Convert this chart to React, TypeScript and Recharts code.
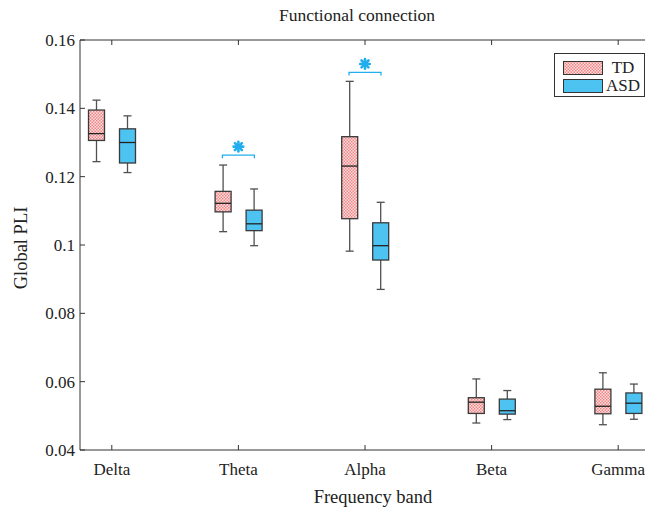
import { Bar, ComposedChart, Legend, Scatter, XAxis, YAxis } from "recharts";

const bands = ["Delta", "Theta", "Alpha", "Beta", "Gamma"];

// TD box statistics per band
const tdMin = [0.1244, 0.1039, 0.0982, 0.0479, 0.0474];
const tdQ1 = [0.1306, 0.1097, 0.1077, 0.0507, 0.0506];
const tdMed = [0.1326, 0.1122, 0.1231, 0.054, 0.0528];
const tdQ3 = [0.1395, 0.1157, 0.1317, 0.0553, 0.0578];
const tdMax = [0.1424, 0.1234, 0.1479, 0.0608, 0.0626];

// ASD box statistics per band
const asdMin = [0.1212, 0.0998, 0.087, 0.0489, 0.049];
const asdQ1 = [0.124, 0.1042, 0.0956, 0.0505, 0.0507];
const asdMed = [0.13, 0.1062, 0.0998, 0.0515, 0.0537];
const asdQ3 = [0.134, 0.1102, 0.1065, 0.0549, 0.0567];
const asdMax = [0.1378, 0.1164, 0.1125, 0.0574, 0.0593];

// height of the significance bracket (null = not significant)
const sigLevel = [null, 0.1263, 0.1505, null, null];

const yTicks = [0.04, 0.06, 0.08, 0.1, 0.12, 0.14, 0.16];

const FONT = "'Liberation Serif', 'Times New Roman', serif";
const TD_EDGE = "#3a3a3a";
const ASD_FILL = "#4dc3f2";
const SIG = "#22aeee";

const data = bands.map((band, i) => ({
  band,
  td: { min: tdMin[i], q1: tdQ1[i], med: tdMed[i], q3: tdQ3[i], max: tdMax[i] },
  asd: { min: asdMin[i], q1: asdQ1[i], med: asdMed[i], q3: asdQ3[i], max: asdMax[i] },
  sig: sigLevel[i],
}));

function BoxShape(props: any) {
  const { x, y, width, height, stats, fill } = props;
  if (!stats || height == null) return null;
  const top = Math.min(y, y + height);
  const bottom = Math.max(y, y + height);
  const py = (v: number) => top + ((stats.max - v) / (stats.max - stats.min)) * (bottom - top);
  const cx = x + width / 2;
  const w = "#505050";
  return (
    <g>
      <line x1={cx} x2={cx} y1={py(stats.max)} y2={py(stats.q3)} stroke={w} strokeWidth={1.3} />
      <line x1={cx} x2={cx} y1={py(stats.q1)} y2={py(stats.min)} stroke={w} strokeWidth={1.3} />
      <line x1={cx - 4} x2={cx + 4} y1={py(stats.max)} y2={py(stats.max)} stroke={w} strokeWidth={1.3} />
      <line x1={cx - 4} x2={cx + 4} y1={py(stats.min)} y2={py(stats.min)} stroke={w} strokeWidth={1.3} />
      <rect x={x} y={py(stats.q3)} width={width} height={py(stats.q1) - py(stats.q3)} fill={fill} stroke={TD_EDGE} strokeWidth={1.3} />
      <line x1={x} x2={x + width} y1={py(stats.med)} y2={py(stats.med)} stroke="#222" strokeWidth={1.3} />
    </g>
  );
}

function SigShape(props: any) {
  const { cx, cy, payload } = props;
  if (payload == null || payload.sig == null || !Number.isFinite(cy)) return <g />;
  const s = 4.8;
  const d = s * 0.72;
  const sy = cy - 8.5;
  return (
    <g stroke={SIG} fill="none" strokeLinecap="round">
      <path d={`M${cx - 16},${cy + 3} V${cy} H${cx + 16} V${cy + 3}`} strokeWidth={1.3} strokeLinecap="butt" />
      <line x1={cx - s} x2={cx + s} y1={sy} y2={sy} strokeWidth={2.6} />
      <line x1={cx} x2={cx} y1={sy - s} y2={sy + s} strokeWidth={2.6} />
      <line x1={cx - d} x2={cx + d} y1={sy - d} y2={sy + d} strokeWidth={2.6} />
      <line x1={cx - d} x2={cx + d} y1={sy + d} y2={sy - d} strokeWidth={2.6} />
    </g>
  );
}

function BottomTick(props: any) {
  const { x, y, payload } = props;
  return (
    <g>
      <line x1={x} x2={x} y1={y} y2={y - 5} stroke="#333" />
      <text x={x} y={y + 25} textAnchor="middle" fill="#222" fontSize={17} fontFamily={FONT}>
        {payload.value}
      </text>
    </g>
  );
}

function TopTick(props: any) {
  const { x, y } = props;
  return <line x1={x} x2={x} y1={y} y2={y + 5} stroke="#333" />;
}

function LeftTick(props: any) {
  const { x, y, payload } = props;
  return (
    <g>
      <line x1={x} x2={x + 5} y1={y} y2={y} stroke="#333" />
      <text x={x - 5} y={y + 6} textAnchor="end" fill="#222" fontSize={17} fontFamily={FONT}>
        {String(Number(payload.value.toFixed(2)))}
      </text>
    </g>
  );
}

function Swatch({ td }: { td: boolean }) {
  return (
    <svg width={40} height={14} style={{ display: "block" }}>
      <defs>
        <pattern id="tdLegendFill" width={3} height={3} patternUnits="userSpaceOnUse">
          <rect width={3} height={3} fill="#fde0e0" />
          <rect width={1.5} height={1.5} fill="#ef8585" />
          <rect x={1.5} y={1.5} width={1.5} height={1.5} fill="#ef8585" />
        </pattern>
      </defs>
      <rect x={0.5} y={0.5} width={39} height={13} fill={td ? "url(#tdLegendFill)" : ASD_FILL} stroke="#333" />
    </svg>
  );
}

function LegendBox() {
  const rows = [
    { name: "TD", td: true },
    { name: "ASD", td: false },
  ];
  return (
    <div
      style={{
        width: 91,
        height: 44,
        boxSizing: "border-box",
        border: "1px solid #333",
        background: "#fff",
        padding: "5px 0 0 8px",
        fontFamily: FONT,
        fontSize: 17,
        color: "#222",
      }}
    >
      {rows.map((r) => (
        <div key={r.name} style={{ display: "flex", alignItems: "center", height: 18 }}>
          <Swatch td={r.td} />
          <span style={{ width: 40, textAlign: "center", lineHeight: "18px" }}>{r.name}</span>
        </div>
      ))}
    </div>
  );
}

export default function App() {
  return (
    <div style={{ position: "absolute", left: 0, top: 0, width: 645, height: 512, overflow: "hidden", background: "#fff" }}>
      <ComposedChart width={660} height={512} data={data} margin={{ top: 0, right: 10, bottom: 0, left: 0 }} barSize={16} barGap={15}>
        <defs>
          <pattern id="tdFill" width={3} height={3} patternUnits="userSpaceOnUse">
            <rect width={3} height={3} fill="#fde0e0" />
            <rect width={1.5} height={1.5} fill="#ef8585" />
            <rect x={1.5} y={1.5} width={1.5} height={1.5} fill="#ef8585" />
          </pattern>
        </defs>
        <XAxis
          xAxisId="bottom"
          dataKey="band"
          orientation="bottom"
          height={62}
          padding={{ left: -31.5, right: -31.5 }}
          tickLine={false}
          tickSize={0}
          tickMargin={0}
          tick={<BottomTick />}
          axisLine={{ stroke: "#333" }}
          interval={0}
          label={{
            content: (p: any) => (
              <text x={p.viewBox.x + p.viewBox.width / 2 + 8} y={p.viewBox.y + 53} textAnchor="middle" fill="#222" fontSize={18.5} fontFamily={FONT}>
                Frequency band
              </text>
            ),
          }}
        />
        <XAxis
          xAxisId="top"
          dataKey="band"
          orientation="top"
          height={40}
          padding={{ left: -31.5, right: -31.5 }}
          tickLine={false}
          tickSize={0}
          tickMargin={0}
          tick={<TopTick />}
          axisLine={{ stroke: "#333" }}
          interval={0}
          label={{
            content: (p: any) => (
              <text x={p.viewBox.x + p.viewBox.width / 2 - 8} y={21} textAnchor="middle" fill="#222" fontSize={17.5} fontFamily={FONT}>
                Functional connection
              </text>
            ),
          }}
        />
        <YAxis
          type="number"
          width={80}
          domain={[0.04, 0.16]}
          ticks={yTicks}
          allowDataOverflow
          tickLine={false}
          tickSize={0}
          tickMargin={0}
          tick={<LeftTick />}
          axisLine={{ stroke: "#333" }}
          label={{
            content: (p: any) => {
              const lx = 27;
              const ly = p.viewBox.y + p.viewBox.height / 2 + 3;
              return (
                <text x={lx} y={ly} transform={`rotate(-90, ${lx}, ${ly})`} textAnchor="middle" fill="#222" fontSize={18.5} fontFamily={FONT}>
                  Global PLI
                </text>
              );
            },
          }}
        />
        <Bar
          xAxisId="bottom"
          name="TD"
          dataKey={(d: any) => [d.td.min, d.td.max]}
          isAnimationActive={false}
          shape={(p: any) => <BoxShape {...p} stats={p.payload.td} fill="url(#tdFill)" />}
        />
        <Bar
          xAxisId="bottom"
          name="ASD"
          dataKey={(d: any) => [d.asd.min, d.asd.max]}
          isAnimationActive={false}
          shape={(p: any) => <BoxShape {...p} stats={p.payload.asd} fill={ASD_FILL} />}
        />
        <Scatter xAxisId="bottom" dataKey="sig" legendType="none" isAnimationActive={false} shape={<SigShape />} />
        <Legend
          content={() => <LegendBox />}
          layout="horizontal"
          verticalAlign="middle"
          align="center"
          wrapperStyle={{ position: "absolute", left: 554, top: 53, width: 91 }}
        />
      </ComposedChart>
    </div>
  );
}
